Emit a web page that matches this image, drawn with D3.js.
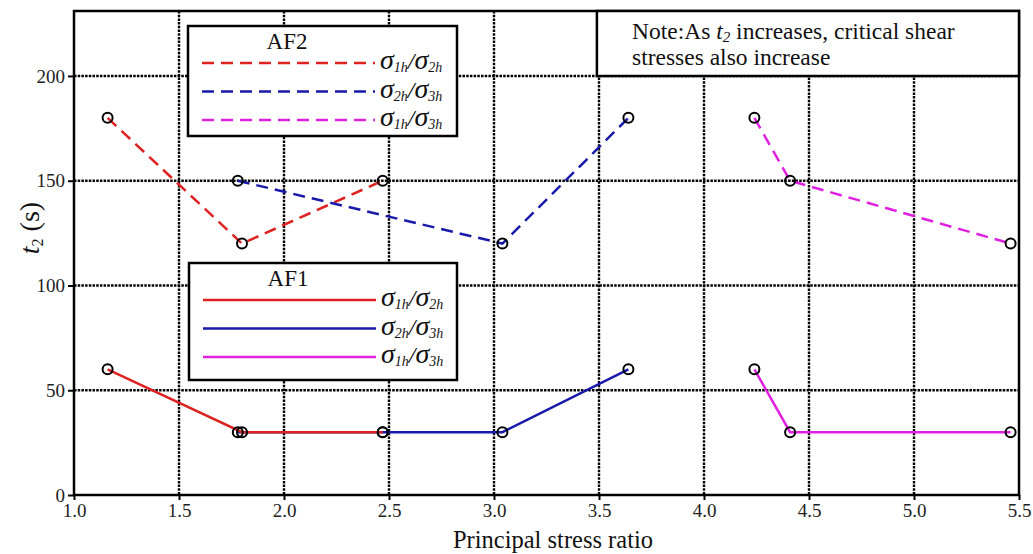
<!DOCTYPE html>
<html>
<head>
<meta charset="utf-8">
<script src="https://cdn.jsdelivr.net/npm/d3@7"></script>
<style>
  body { margin: 0; background: #fff; }
  svg { font-family: 'Liberation Serif', 'Times New Roman', serif; }
</style>
</head>
<body>
<div id="chart"></div>
<script>
// tick values
const xTicks = [1.0, 1.5, 2.0, 2.5, 3.0, 3.5, 4.0, 4.5, 5.0, 5.5];
const yTicks = [0, 50, 100, 150, 200];

// AF2 (dashed)
const af2S1S2 = [{ x: 1.16, y: 180 }, { x: 1.80, y: 120 }, { x: 2.47, y: 150 }];
const af2S2S3 = [{ x: 1.78, y: 150 }, { x: 3.04, y: 120 }, { x: 3.64, y: 180 }];
const af2S1S3 = [{ x: 4.24, y: 180 }, { x: 4.41, y: 150 }, { x: 5.46, y: 120 }];

// AF1 (solid)
const af1S2S3 = [{ x: 1.78, y: 30 }, { x: 2.47, y: 30 }, { x: 3.04, y: 30 }, { x: 3.64, y: 60 }];
const af1S1S2 = [{ x: 1.16, y: 60 }, { x: 1.80, y: 30 }, { x: 2.47, y: 30 }];
const af1S1S3 = [{ x: 4.24, y: 60 }, { x: 4.41, y: 30 }, { x: 5.46, y: 30 }];

const legendLabels = [['1h', '2h'], ['2h', '3h'], ['1h', '3h']];
const colors = ['#dd2222', '#1a1aaa', '#e020e0'];

const W = 1033, H = 554;
const margin = { left: 74, top: 11, right: 14, bottom: 59 };
const width = W - margin.left - margin.right;
const height = H - margin.top - margin.bottom;

const svg = d3.select('#chart').append('svg')
    .attr('width', W)
    .attr('height', H);

const g = svg.append('g')
    .attr('transform', 'translate(' + margin.left + ',' + margin.top + ')');

const x = d3.scaleLinear().domain([1.0, 5.5]).range([0, width]);
const y = d3.scaleLinear().domain([0, 231]).range([height, 0]);

// grid
g.append('g').selectAll('line.vg')
  .data(xTicks.slice(1, -1))
  .enter().append('line')
    .attr('x1', d => x(d)).attr('x2', d => x(d))
    .attr('y1', 0).attr('y2', height)
    .attr('stroke', '#000').attr('stroke-width', 2.4)
    .attr('stroke-dasharray', '2.5,1.2');

g.append('g').selectAll('line.hg')
  .data(yTicks.slice(1))
  .enter().append('line')
    .attr('x1', 0).attr('x2', width)
    .attr('y1', d => y(d)).attr('y2', d => y(d))
    .attr('stroke', '#000').attr('stroke-width', 2.4)
    .attr('stroke-dasharray', '2.5,1.2');

// axes
const xAxis = g.append('g')
    .attr('transform', 'translate(0,' + height + ')')
    .call(d3.axisBottom(x).tickValues(xTicks).tickFormat(d3.format('.1f')).tickSize(5).tickPadding(4));
const yAxis = g.append('g')
    .call(d3.axisLeft(y).tickValues(yTicks).tickSize(6).tickPadding(3));

[xAxis, yAxis].forEach(a => {
  a.select('.domain').remove();
  a.selectAll('.tick line').attr('stroke', '#000').attr('stroke-width', 2);
  a.selectAll('.tick text')
    .attr('font-family', 'Liberation Serif, serif')
    .attr('font-size', 19)
    .attr('fill', '#222');
});

// frame
g.append('rect')
    .attr('width', width).attr('height', height)
    .attr('fill', 'none').attr('stroke', '#000').attr('stroke-width', 2.5);

// series
const line = d3.line().x(d => x(d.x)).y(d => y(d.y));

const series = [
  { data: af1S2S3, color: colors[1], dash: null },
  { data: af1S1S2, color: colors[0], dash: null },
  { data: af1S1S3, color: colors[2], dash: null },
  { data: af2S1S2, color: colors[0], dash: '12,7' },
  { data: af2S2S3, color: colors[1], dash: '12,7' },
  { data: af2S1S3, color: colors[2], dash: '12,7' }
];

series.forEach(s => {
  g.append('path')
    .datum(s.data)
    .attr('d', line)
    .attr('fill', 'none')
    .attr('stroke', s.color)
    .attr('stroke-width', 2.5)
    .attr('stroke-dasharray', s.dash);
});

series.forEach(s => {
  g.selectAll(null)
    .data(s.data)
    .enter().append('circle')
      .attr('cx', d => x(d.x))
      .attr('cy', d => y(d.y))
      .attr('r', 5)
      .attr('fill', 'none')
      .attr('stroke', '#000')
      .attr('stroke-width', 2);
});

// legends
function sigmaLabel(sel, subs) {
  const t = sel.append('text').attr('fill', '#111');
  t.append('tspan').attr('font-size', 28).attr('font-style', 'italic').text('σ');
  t.append('tspan').attr('font-size', 14).attr('font-style', 'italic').attr('dy', 3).text(subs[0]);
  t.append('tspan').attr('font-size', 24).attr('font-style', 'italic').attr('dy', -3).text('/');
  t.append('tspan').attr('font-size', 28).attr('font-style', 'italic').text('σ');
  t.append('tspan').attr('font-size', 14).attr('font-style', 'italic').attr('dy', 3).text(subs[1]);
  return t;
}

function legend(bx, by, bw, bh, title, dash) {
  const lg = svg.append('g').attr('transform', 'translate(' + bx + ',' + by + ')');
  lg.append('rect')
    .attr('width', bw).attr('height', bh)
    .attr('fill', '#fff').attr('stroke', '#000').attr('stroke-width', 2.5);
  lg.append('text')
    .attr('x', 99).attr('y', 23)
    .attr('text-anchor', 'middle')
    .attr('font-size', 23)
    .attr('fill', '#111')
    .text(title);
  legendLabels.forEach((lab, i) => {
    const ly = 37 + i * 28.5;
    lg.append('line')
      .attr('x1', 14).attr('x2', 187)
      .attr('y1', ly).attr('y2', ly)
      .attr('stroke', colors[i]).attr('stroke-width', 2.5)
      .attr('stroke-dasharray', dash);
    sigmaLabel(lg, lab).attr('x', 192).attr('y', ly + 6);
  });
}

legend(188, 26, 269, 110, 'AF2', '12,7');
legend(189, 263, 268, 117, 'AF1', null);

// note box
const noteX = x(3.49) + margin.left;
svg.append('rect')
    .attr('x', noteX).attr('y', margin.top)
    .attr('width', margin.left + width - noteX).attr('height', 65)
    .attr('fill', '#fff').attr('stroke', '#000').attr('stroke-width', 2.5);
const note1 = svg.append('text')
    .attr('x', 632).attr('y', 39)
    .attr('font-size', 23.5).attr('fill', '#111');
note1.append('tspan').text('Note:As ');
note1.append('tspan').attr('font-style', 'italic').text('t');
note1.append('tspan').attr('font-style', 'italic').attr('font-size', 15).attr('dy', 3).text('2');
note1.append('tspan').attr('dy', -3).text(' increases, critical shear');
svg.append('text')
    .attr('x', 632).attr('y', 65)
    .attr('font-size', 23.5).attr('fill', '#111')
    .text('stresses also increase');

// axis titles
svg.append('text')
    .attr('x', 553).attr('y', 548)
    .attr('text-anchor', 'middle')
    .attr('font-size', 24.5).attr('fill', '#111')
    .text('Principal stress ratio');

const yl = svg.append('text')
    .attr('transform', 'translate(39,228) rotate(-90)')
    .attr('text-anchor', 'middle')
    .attr('font-size', 28).attr('fill', '#111');
yl.append('tspan').attr('font-style', 'italic').text('t');
yl.append('tspan').attr('font-size', 16).attr('dy', 4).text('2');
yl.append('tspan').attr('dy', -4).text('  (s)');
</script>
</body>
</html>
